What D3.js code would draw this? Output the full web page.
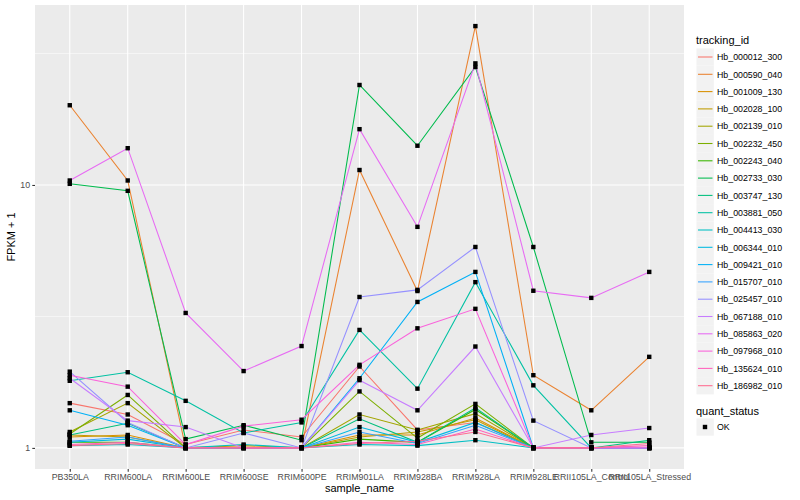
<!DOCTYPE html>
<html><head><meta charset="utf-8">
<script src="https://cdn.jsdelivr.net/npm/d3@7"></script>
<style>body{margin:0;background:#fff}svg{display:block;font-family:"Liberation Sans",Arial,sans-serif}</style>
</head><body><svg id="c" width="800" height="500"></svg>
<script>
const categories = ["PB350LA","RRIM600LA","RRIM600LE","RRIM600SE","RRIM600PE","RRIM901LA","RRIM928BA","RRIM928LA","RRIM928LE","RRII105LA_Control","RRII105LA_Stressed"];
const trackingIds = ["Hb_000012_300","Hb_000590_040","Hb_001009_130","Hb_002028_100","Hb_002139_010","Hb_002232_450","Hb_002243_040","Hb_002733_030","Hb_003747_130","Hb_003881_050","Hb_004413_030","Hb_006344_010","Hb_009421_010","Hb_015707_010","Hb_025457_010","Hb_067188_010","Hb_085863_020","Hb_097968_010","Hb_135624_010","Hb_186982_010"];
const colors = ["#F8766D","#EA8331","#D89000","#C09B00","#A3A500","#7CAE00","#39B600","#00BB4E","#00BF7D","#00C1A3","#00BFC4","#00BAE0","#00B0F6","#35A2FF","#9590FF","#C77CFF","#E76BF3","#FA62DB","#FF62BC","#FF6C91"];
const s01 = [1.48,1.34,1.03,1.17,1.10,2.04,1.17,1.25,1.0,1.0,1.0];
const s02 = [20.1,10.4,1.0,1.0,1.0,11.4,3.95,40.2,1.89,1.39,2.22];
const s03 = [1.10,1.12,1.0,1.02,1.0,1.12,1.12,1.30,1.0,1.0,1.0];
const s04 = [1.12,1.10,1.0,1.0,1.0,1.10,1.15,1.28,1.0,1.0,1.0];
const s05 = [1.15,1.48,1.0,1.0,1.0,1.34,1.17,1.35,1.0,1.0,1.0];
const s06 = [1.13,1.59,1.0,1.0,1.0,1.64,1.09,1.47,1.0,1.0,1.0];
const s07 = [1.05,1.05,1.0,1.0,1.0,1.08,1.05,1.40,1.0,1.0,1.0];
const s08 = [10.1,9.5,1.08,1.22,1.07,24.0,14.1,28.1,5.81,1.05,1.05];
const s09 = [1.12,1.24,1.0,1.0,1.0,1.29,1.05,1.42,1.0,1.0,1.07];
const s10 = [1.80,1.94,1.51,1.14,1.25,2.81,1.68,4.27,1.73,1.0,1.0];
const s11 = [1.02,1.03,1.0,1.03,1.0,1.03,1.02,1.07,1.0,1.0,1.0];
const s12 = [1.05,1.08,1.0,1.0,1.0,1.20,1.05,1.25,1.0,1.0,1.0];
const s13 = [1.39,1.22,1.0,1.0,1.0,1.84,3.59,4.67,1.0,1.0,1.0];
const s14 = [1.06,1.10,1.0,1.0,1.0,1.15,1.04,1.22,1.0,1.0,1.0];
const s15 = [1.95,1.25,1.0,1.14,1.0,3.75,3.99,5.81,1.27,1.0,1.0];
const s16 = [1.84,1.27,1.20,1.0,1.0,1.81,1.39,2.43,1.0,1.12,1.19];
const s17 = [10.4,13.8,3.26,1.96,2.44,16.3,6.93,29.0,3.96,3.72,4.67];
const s18 = [1.89,1.71,1.03,1.21,1.28,2.07,2.85,3.38,1.0,1.0,1.0];
const s19 = [1.03,1.05,1.0,1.0,1.0,1.05,1.03,1.18,1.0,1.0,1.02];
const s20 = [1.02,1.04,1.0,1.0,1.0,1.04,1.06,1.15,1.0,1.0,1.04];
const seriesValues = [s01,s02,s03,s04,s05,s06,s07,s08,s09,s10,s11,s12,s13,s14,s15,s16,s17,s18,s19,s20];
const yTicks = [1,10];
const yMinor = [Math.sqrt(10), Math.pow(10,1.5)];

const svg = d3.select("#c");
const L=35,R=684,T=5,B=469;
const x = d3.scalePoint().domain(categories).range([L,R]).padding(0.6);
const all = seriesValues.flat();
const lmin = Math.log10(d3.min(all)), lmax = Math.log10(d3.max(all));
const pad = (lmax-lmin)*0.05;
const y = d3.scaleLog().domain([Math.pow(10,lmin-pad),Math.pow(10,lmax+pad)]).range([B,T]);

svg.append("rect").attr("x",L).attr("y",T).attr("width",R-L).attr("height",B-T).attr("fill","#EBEBEB");
const g = svg.append("g");
yMinor.forEach(v=>g.append("line").attr("x1",L).attr("x2",R).attr("y1",y(v)).attr("y2",y(v)).attr("stroke","#fff").attr("stroke-width",0.53));
yTicks.forEach(v=>g.append("line").attr("x1",L).attr("x2",R).attr("y1",y(v)).attr("y2",y(v)).attr("stroke","#fff").attr("stroke-width",1.07));
categories.forEach(c=>g.append("line").attr("x1",x(c)).attr("x2",x(c)).attr("y1",T).attr("y2",B).attr("stroke","#fff").attr("stroke-width",1.07));

const line = d3.line().x((d,i)=>x(categories[i])).y(d=>y(d));
seriesValues.forEach((vals,k)=>{
  svg.append("path").attr("d",line(vals)).attr("fill","none").attr("stroke",colors[k]).attr("stroke-width",1.07);
});
seriesValues.forEach(vals=>{
  vals.forEach((v,i)=>svg.append("rect").attr("x",x(categories[i])-2.2).attr("y",y(v)-2.2).attr("width",4.4).attr("height",4.4).attr("fill","#000"));
});

// axes
const yAxis = svg.append("g").attr("transform",`translate(${L},0)`).call(d3.axisLeft(y).tickValues(yTicks).tickFormat(d3.format("d")).tickSize(2.7).tickPadding(2.2));
const xAxis = svg.append("g").attr("transform",`translate(0,${B})`).call(d3.axisBottom(x).tickSize(2.7).tickPadding(2.2));
[yAxis,xAxis].forEach(a=>{
  a.select(".domain").remove();
  a.selectAll(".tick line").attr("stroke","#333").attr("stroke-width",1.07);
  a.selectAll(".tick text").attr("fill","#4D4D4D").style("font-size","8.8px").style("font-family","Liberation Sans, Arial, sans-serif");
});
svg.append("text").attr("x",(L+R)/2).attr("y",492).attr("text-anchor","middle").style("font-size","11px").attr("fill","#000").text("sample_name");
svg.append("text").attr("transform",`translate(15,${(T+B)/2}) rotate(-90)`).attr("text-anchor","middle").style("font-size","11px").attr("fill","#000").text("FPKM + 1");

// legend
const lg = svg.append("g");
lg.append("text").attr("x",696).attr("y",44).style("font-size","11px").text("tracking_id");
trackingIds.forEach((id,k)=>{
  const cy = 57 + k*17.3;
  lg.append("rect").attr("x",696.5).attr("y",cy-8.6).attr("width",17.3).attr("height",17.3).attr("fill","#F2F2F2");
  lg.append("line").attr("x1",698).attr("x2",712.5).attr("y1",cy).attr("y2",cy).attr("stroke",colors[k]).attr("stroke-width",1.07);
  lg.append("text").attr("x",717).attr("y",cy+3.2).style("font-size","8.8px").text(id);
});
lg.append("text").attr("x",696).attr("y",415).style("font-size","11px").text("quant_status");
lg.append("rect").attr("x",696.5).attr("y",427-8.6).attr("width",17.3).attr("height",17.3).attr("fill","#F2F2F2");
lg.append("rect").attr("x",705-2.2).attr("y",427-2.2).attr("width",4.4).attr("height",4.4).attr("fill","#000");
lg.append("text").attr("x",717).attr("y",430.2).style("font-size","8.8px").text("OK");
</script></body></html>
